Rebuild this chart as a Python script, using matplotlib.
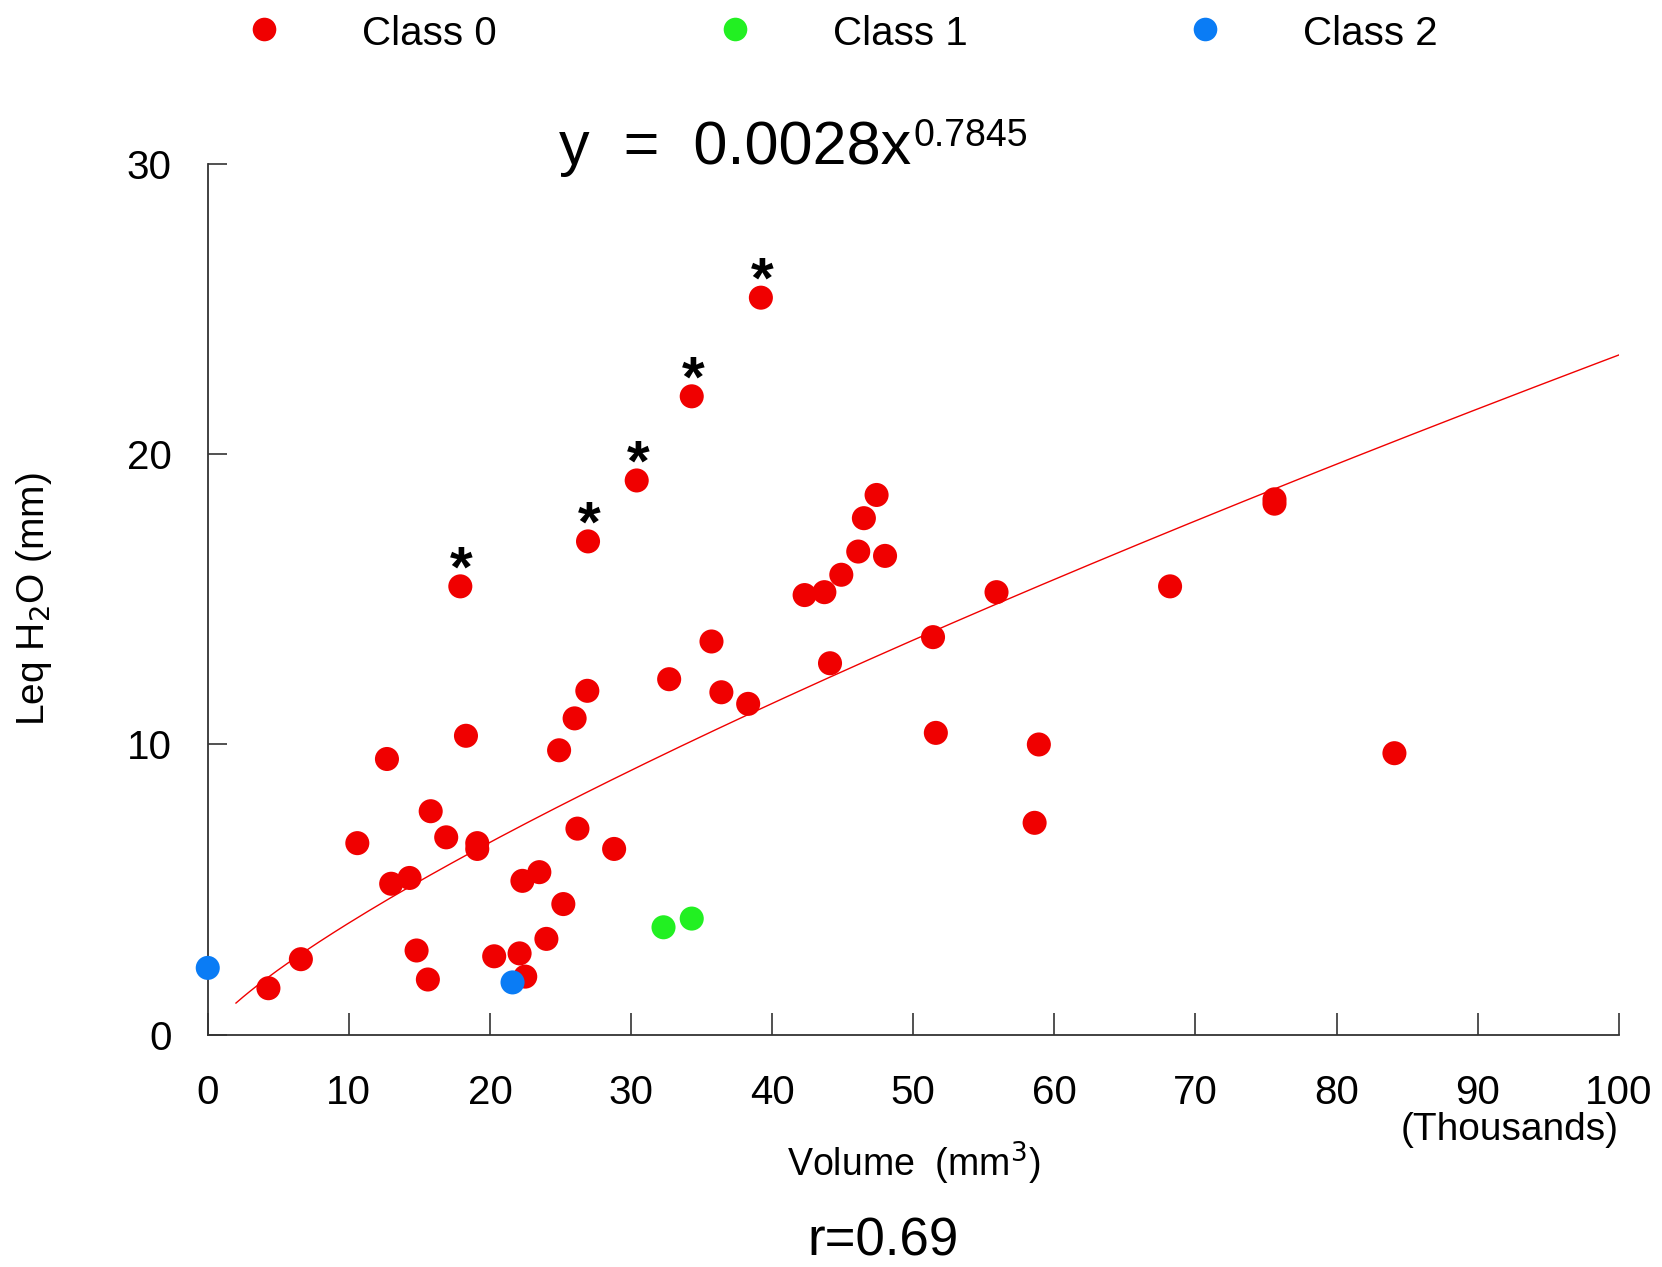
import matplotlib
matplotlib.use("Agg")
import matplotlib.pyplot as plt
import numpy as np

plt.rcParams['font.family'] = ['Liberation Sans', 'DejaVu Sans']

# Class 0 (red), volume in thousands of mm3, Leq H2O in mm
x0 = [4.3, 6.6, 10.6, 12.7, 13.0, 14.3, 14.8, 15.6, 15.8, 16.9, 17.9, 18.3,
      19.1, 19.1, 20.3, 22.1, 22.3, 22.5, 23.5, 24.0, 24.9, 25.2, 26.0, 26.2,
      26.9, 26.95, 28.8, 30.4, 32.7, 34.3, 35.7, 36.4, 38.3, 39.2, 42.3, 43.7,
      44.1, 44.9, 46.1, 46.5, 47.4, 48.0, 51.4, 51.6, 55.9, 58.6, 58.9, 68.2,
      75.6, 75.6, 84.1]
y0 = [1.6, 2.6, 6.6, 9.5, 5.2, 5.4, 2.9, 1.9, 7.7, 6.8, 15.45, 10.3,
      6.6, 6.4, 2.7, 2.8, 5.3, 2.0, 5.6, 3.3, 9.8, 4.5, 10.9, 7.1,
      11.85, 17.0, 6.4, 19.1, 12.25, 22.0, 13.55, 11.8, 11.4, 25.4, 15.15, 15.25,
      12.8, 15.85, 16.65, 17.8, 18.6, 16.5, 13.7, 10.4, 15.25, 7.3, 10.0, 15.45,
      18.45, 18.3, 9.7]
# Class 1 (green)
x1 = [32.3, 34.3]
y1 = [3.7, 4.0]
# Class 2 (blue)
x2 = [0.0, 21.6]
y2 = [2.3, 1.8]

# points marked with an asterisk
star_x = [17.9, 26.95, 30.4, 34.3, 39.2]
star_y = [15.45, 17.0, 19.1, 22.0, 25.4]

# power fit y = 0.0028 * V^0.7845 (V in mm3)
fit_a = 0.0028
fit_b = 0.7845

red = '#f00000'
green = '#22f022'
blue = '#0a7cf5'

fig = plt.figure(figsize=(16.62, 12.67), dpi=100)
ax = fig.add_axes([0.125, 0.1834, 0.849, 0.687])

xs = np.linspace(2, 100, 200)
ax.plot(xs, fit_a * (xs * 1000) ** fit_b, color=red, linewidth=1.0, zorder=2)

ms = 300
ax.scatter(x0, y0, s=ms, color=red, edgecolors='none', zorder=3, clip_on=False)
ax.scatter(x1, y1, s=ms, color=green, edgecolors='none', zorder=3, clip_on=False)
ax.scatter(x2, y2, s=ms, color=blue, edgecolors='none', zorder=4, clip_on=False)

for sx, sy in zip(star_x, star_y):
    ax.annotate('*', (sx, sy), xytext=(1, 0), textcoords='offset points',
                ha='center', va='baseline', fontsize=42, fontweight='bold')

ax.set_xlim(0, 100)
ax.set_ylim(0, 30)
ax.set_xticks(np.arange(0, 101, 10))
ax.set_yticks([0, 10, 20, 30])
for s in ['top', 'right']:
    ax.spines[s].set_visible(False)
for s in ['left', 'bottom']:
    ax.spines[s].set_color('#333333')
    ax.spines[s].set_linewidth(1.3)
ax.tick_params(axis='x', direction='in', length=16, width=1.2, color='#333333',
               labelsize=29, pad=28)
ax.tick_params(axis='y', direction='in', length=14, width=1.2, color='#333333',
               labelsize=29, pad=26)

ax.set_ylabel('Leq H$_2$O (mm)', fontsize=28, va='center')
ax.yaxis.set_label_coords(-0.123, 0.5)
fig.text(0.55, 0.082, 'Volume  (mm$^3$)', ha='center', va='center', fontsize=27)
fig.text(0.974, 0.108, '(Thousands)', ha='right', va='center', fontsize=28)
fig.text(0.531, 0.02, 'r=0.69', ha='center', va='center', fontsize=38)

fig.text(0.5485, 0.883, 'y  =  0.0028x', ha='right', va='center', fontsize=44)
fig.text(0.5498, 0.893, '0.7845', ha='left', va='center', fontsize=27)

# legend row at top
leg_x = [0.159, 0.442, 0.725]
leg_labels = ['Class 0', 'Class 1', 'Class 2']
leg_colors = [red, green, blue]
for lx, lab, col in zip(leg_x, leg_labels, leg_colors):
    fig.lines.append(plt.Line2D([lx], [0.977], marker='o', markersize=17,
                                color=col, markeredgecolor='none',
                                transform=fig.transFigure))
    fig.text(lx + 0.059, 0.973, lab, ha='left', va='center', fontsize=29)

fig.savefig('out.png', dpi=100)
